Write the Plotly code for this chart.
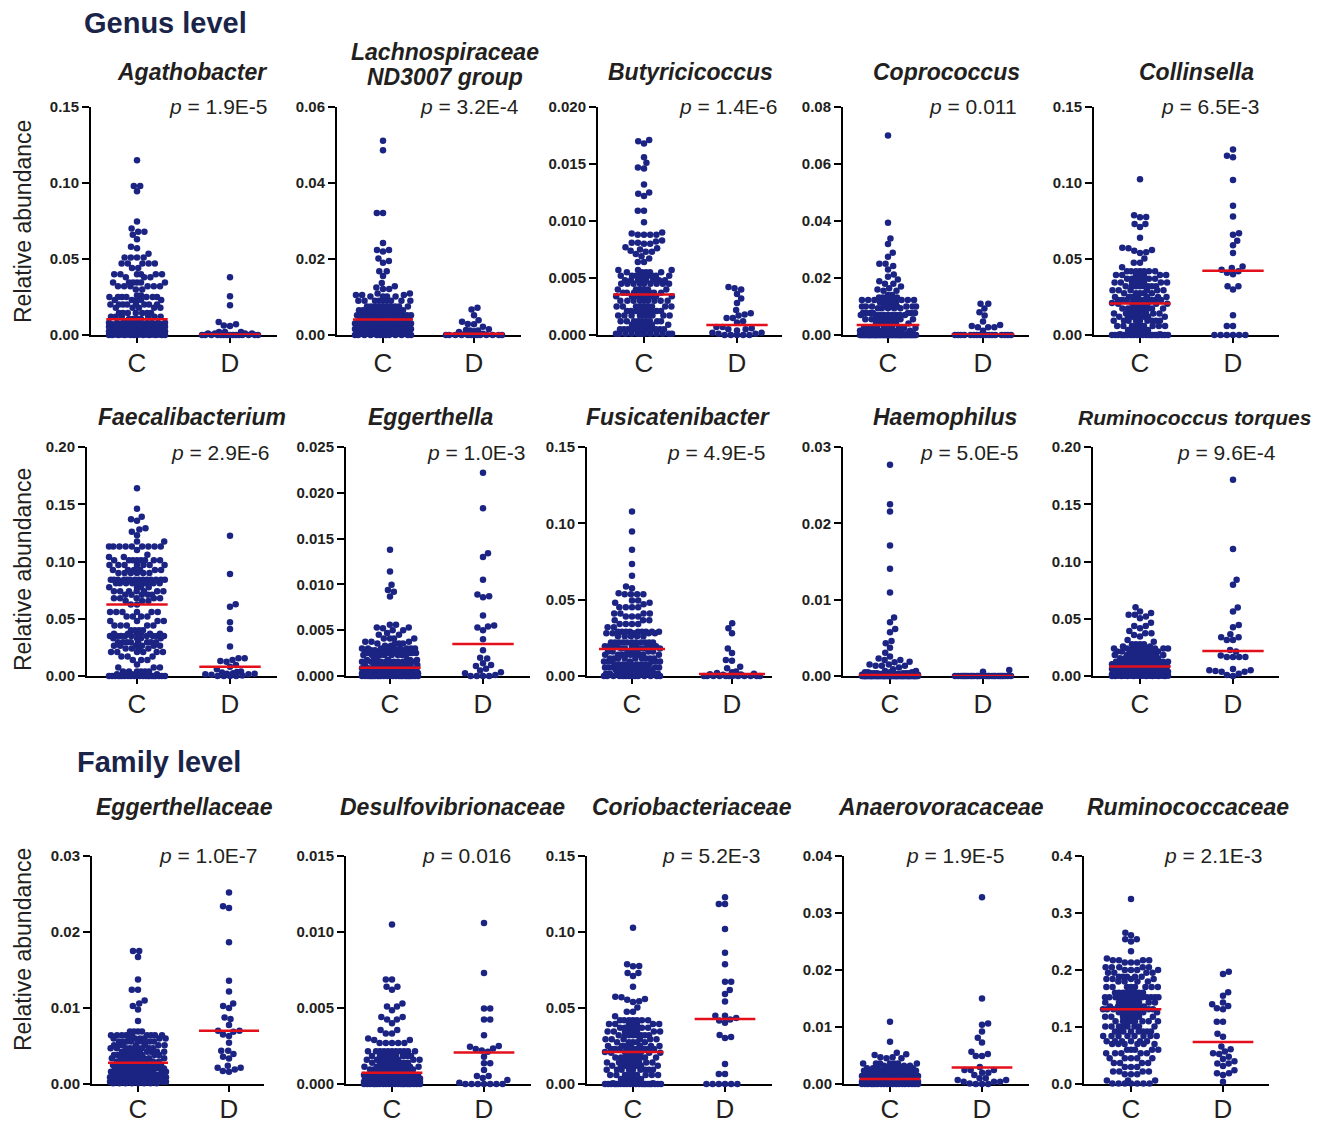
import math
import plotly.graph_objects as go

# ---------------- data ----------------
NAMES = ["Agathobacter", "Lachnospiraceae ND3007 group", "Butyricicoccus", "Coprococcus", "Collinsella",
         "Faecalibacterium", "Eggerthella", "Fusicatenibacter", "Haemophilus", "Ruminococcus torques",
         "Eggerthellaceae", "Desulfovibrionaceae", "Coriobacteriaceae", "Anaerovoracaceae", "Ruminococcaceae"]
P_TEXT = ["1.9E-5", "3.2E-4", "1.4E-6", "0.011", "6.5E-3",
          "2.9E-6", "1.0E-3", "4.9E-5", "5.0E-5", "9.6E-4",
          "1.0E-7", "0.016", "5.2E-3", "1.9E-5", "2.1E-3"]
Y_MAX = [0.15, 0.06, 0.020, 0.08, 0.15, 0.20, 0.025, 0.15, 0.03, 0.20, 0.03, 0.015, 0.15, 0.04, 0.4]
Y_STEP = [0.05, 0.02, 0.005, 0.02, 0.05, 0.05, 0.005, 0.05, 0.01, 0.05, 0.01, 0.005, 0.05, 0.01, 0.1]
Y_FMT = [".2f", ".2f", ".3f", ".2f", ".2f", ".2f", ".3f", ".2f", ".2f", ".2f", ".2f", ".3f", ".2f", ".2f", ".1f"]
UNITS = [1e-3, 1e-3, 1e-4, 1e-3, 1e-3, 1e-3, 1e-4, 1e-3, 1e-4, 1e-3, 1e-4, 1e-4, 1e-3, 1e-4, 1e-3]
MEDIAN_C = [0.0104, 0.0041, 0.00355, 0.0035, 0.0208, 0.0625, 0.00091, 0.0177, 0.00012, 0.0082,
            0.0028, 0.00074, 0.021, 0.00088, 0.131]
MEDIAN_D = [0.0004, 0.0003, 0.00088, 0.0002, 0.0423, 0.0080, 0.0035, 0.0013, 0.0, 0.0219,
            0.0070, 0.00208, 0.0428, 0.0029, 0.0737]
CATEGORIES = ["C", "D"]

AGA_C = [115, 98, 98, 94.5, 74.7, 70, 68, 68, 66, 63, 58, 57, 53.5, *[51]*4, *[47]*5, *[44]*2, *[40]*6, *[38]*3,
         *[34.5]*6, *[32]*6, *[30]*2, *[26]*2, *[25]*7, *[23]*5, *[20]*8, *[18]*5, *[14.5]*7, *[12]*6, *[10.5]*4,
         *[8]*10, *[7]*8, *[5.5]*9, *[4]*12, *[2.5]*12, *[1.2]*12, *[0.4]*12, *[0]*12]
AGA_D = [38, 25.5, 19.5, 8.5, 7, 6.2, 6, *[2]*3, *[1]*4, *[0]*15]

LAC_C = [51.1, 48.6, 32.1, 32.1, 24.2, 22.4, 22.4, 22.0, 20.1, 19.5, 19.0, 16.8, 16.8, 15.5, 13.7, 12.8, 12.5, 12.1,
         12.1, *[10.9]*2, *[10.5]*3, *[10.1]*4, *[9]*9, *[7.5]*10, *[6.5]*12, *[5.2]*14, *[4.5]*8, *[4.1]*4,
         *[3.5]*10, *[3]*12, *[2.3]*12, *[1.6]*12, *[1]*12, *[0.4]*10, *[0]*13]
LAC_D = [7.2, 6.7, 5.2, 3.9, 3.5, 2.9, 2.8, 2.2, 1.5, 1.3, 1.2, 1.2, 1.0, 0.8, 0.3, 0.3, *[0]*13]

BUT_C = [171, 170, 168, 156, 151, 147, 146, 132, 125, 124, 122, 109, 109, 99, 90, 89, 88, 88, 88, 88, 83, 82, 81,
         81, 80, 80, 77, 76, 75, 74, 73, 73, 71, 69, 67, 64, 64, *[57]*3, *[55]*5, *[52]*9, *[48]*8, *[45]*9,
         *[40]*6, *[37]*9, *[34]*9, *[30]*9, *[25]*9, *[21]*9, *[17]*9, *[12]*9, *[9]*7, *[5]*12, *[1]*12]
BUT_D = [42, 41, 40, 36, 32, 28, 22, 19, 18, 17, 15, 15, 12, 11, 7, 7, 6, 5, 5, 4, 2, 2, 1, 1, 0, 0, 0, 0, 0]

COP_C = [70, 39.4, 33.9, 31.9, 28.9, 27.5, 25, 25, 24.2, 23, 21.2, 20.4, 19.5, 18.9, 18, 18, 17, 16.4, 16, 15.5,
         15.5, 14, 14, 13.2, 13.2, 13.2, *[12.3]*9, *[11.4]*5, *[10]*9, *[9.4]*5, *[7.7]*7, *[7]*9, *[5.5]*10,
         *[4]*7, *[2.5]*10, *[1.5]*8, *[0.5]*8, *[0]*60]
COP_D = [11, 11, 9.3, 8, 6.8, 4.7, 3.5, 3.2, 2.7, 2.7, 2.7, 1.5, *[0]*17]

COL_C = [102.5, 78.8, 77.7, 77.5, 73, 73, 71, 64, 57.4, 57, 56, 55.5, 54.5, 54, 50.4, 47.5, 47.5, 44.5, *[42]*7,
         *[39.5]*7, *[37]*7, *[34.5]*8, *[32]*8, *[29.5]*6, *[27.5]*5, *[25]*7, *[23]*9, *[21]*3, *[20.5]*6,
         *[17.5]*9, *[14.2]*9, *[12]*8, *[9.4]*9, *[6]*9, *[3.3]*6, *[0.5]*4, *[0]*22]
COL_D = [122, 118, 117, 102, 85, 78, 67, 66, 62, 59, 54, 45, 44, 43, 42, 41, 40, 32, 32, 30, 13, 6, 6, *[0]*6]

FAE_C = [164, 146, 139, 137, 135.5, 129, 128, 126, 123, 117.5, 117.5, *[113]*9, 110, 106, 104, 104, *[101]*8,
         *[97]*7, *[92.5]*6, *[90]*6, *[84]*14, *[81]*10, *[77.5]*4, *[74]*7, *[71]*5, *[68]*5, *[65.5]*3,
         *[62.5]*2, *[56]*6, *[52]*4, *[48]*4, *[44]*5, *[40]*4, *[37]*6, *[35]*9, *[33]*4, *[29.5]*8,
         *[26.5]*6, *[24]*4, *[21]*6, *[17]*3, *[14]*3, 10, *[7.5]*3, *[4]*6, *[1.5]*4, *[0]*22]
FAE_D = [122.5, 89, 62.7, 60.5, 47, 41, 25.7, 15.5, 15.5, 14, 13, 12.5, 9.5, 8, 6, 4, 3.5, 3, 2.5, 2, 2, 1.5, 1.5,
         1, 0.5, 0, 0, 0, 0]

EGG_C = [137.8, 114, 99.5, 94, 92, 86.7, 56, 56, 53, 53, 52, 50, 50, 47, 45, 45, *[41]*4, *[37.5]*3, *[35.5]*4,
         *[33]*2, *[30]*9, *[28]*7, *[25]*9, *[23]*9, *[17.5]*7, *[15.5]*9, *[12]*11, *[8.5]*12, *[5]*18,
         *[3]*18, *[1.5]*18, *[0]*25]
EGG_D = [222, 183, 134, 130, 105, 89, 87, 86, 66, 55, 54, 53, 50, 40, 28, 20, 19, 14, 12, 11, 8, 6, 4, 3, 1,
         0, 0, 0, 0]

FUS_C = [107.8, 94.7, 82.7, 73.3, 65.6, 58.6, 57.5, 54.2, *[53.5]*4, *[49.5]*2, *[48]*2, 47, *[45]*4, *[41]*4,
         *[39]*3, *[36.5]*3, *[34]*4, *[32]*2, *[29]*9, *[28]*5, *[26]*5, *[22]*11, *[19.5]*9, *[18]*5,
         *[16]*7, *[14]*9, *[11.5]*9, *[9.5]*7, *[7.5]*9, *[5.5]*7, *[4]*10, *[1.5]*10, *[0]*14]
FUS_D = [34.5, 31.3, 28, 18, 15, 10.5, 10, 6, 5, 3, 2.5, 2, 1.5, 1.2, 1, 0.8, 0.5, *[0]*12]

HAE_C = [276.8, 225, 215.6, 171, 140.4, 109.3, 76.5, 70.4, 61.7, 57.3, 45.9, 42.9, 37, 30.6, 25.4, 23, 21, 21,
         18.8, 18, 15, 15, 13.5, 13.5, 13.5, 11, 9, 6.5, 6.5, *[5]*4, *[3.5]*6, *[2.5]*8, *[1.5]*12, *[0.8]*20,
         *[0.3]*30, *[0]*70]
HAE_D = [7.9, 5.7, *[0]*27]

RTQ_C = [60, 56.3, 55, 53.4, 53.4, 52, 50.4, 46.6, 43.7, 43.7, 41.7, 39.4, 37.3, 37.3, 35.9, 34.4, 31.5, 30,
         *[27.7]*4, *[25.7]*2, *[24]*9, *[21.3]*9, *[18.4]*9, *[15.5]*9, *[12.5]*11, *[10.2]*11, *[8.2]*8,
         *[6.1]*16, *[3.8]*18, *[1.5]*18, *[0.3]*12, *[0]*10]
RTQ_D = [171.4, 111, 84, 79.6, 59.8, 56.3, 44.6, 42.6, 36.4, 33.8, 33.8, 31.5, 31.5, 22.7, 21.3, 17.8, 16.6,
         16.6, 16.6, 16.6, 6.1, 5, 5, 4.4, 3.8, 3.8, 2.0, 0.9, 0]

EGF_C = [175, 175, 167, 137.5, 124, 124, 110, 106, 102.5, 98, 83, *[69]*4, *[64]*9, *[60]*7, *[56]*9, *[51]*7,
         *[47]*9, *[42.5]*9, *[38]*9, *[34]*9, *[29.5]*9, *[25]*10, *[20.5]*10, *[16]*10, *[12]*10, *[9]*10,
         *[6]*10, *[3]*10, *[1]*8]
EGF_D = [252, 234, 231.7, 186.6, 135.8, 121.8, 106, 102.5, 100, 87.6, 85.4, 77.5, 70, 70, 68.8, 65, 63, 54.3,
         43.8, 43.8, 39.4, 36, 33.7, 24, 21.5, 21.5, 19, 17, 16]

DES_C = [105, 68.8, 68.8, 64, 64, 62, 53, 51, 51, 48.6, 44, 44, 42.5, 42.5, 40, 35.5, 35.5, 33.3, 33.3, 30, 29,
         29, *[27]*5, *[21.5]*11, *[18.4]*9, *[16]*9, *[14]*9, *[11.4]*11, *[9.6]*11, *[7.4]*2, *[6]*20,
         *[3.7]*22, *[1.5]*22, *[0]*22]
DES_D = [106, 73, 49.7, 49.7, 42.5, 42.5, 32, 25, 24.5, 23.4, 23, 22, 21.2, 18, 13.6, 13.6, 9.2, 5.3, 5.3, 4,
         2.6, 0.9, *[0]*7]

COR_C = [102.8, 78.8, 77.7, 77.5, 73, 73, 71, 64, 57.4, 57, 56, 55.5, 54.5, 54, 50.4, 47.5, 47.5, 44.5, *[42]*7,
         *[39.5]*7, *[37]*7, *[34.5]*8, *[32]*8, *[29.5]*6, *[27.5]*5, *[25]*7, *[23]*9, *[21]*3, *[20.5]*6,
         *[17.5]*9, *[14.2]*9, *[12]*8, *[9.4]*9, *[6]*9, *[3.3]*6, *[0.5]*4, *[0]*22]
COR_D = [122.8, 118.4, 118.4, 102, 86.4, 78.8, 67.3, 67.3, 61.8, 59.2, 54.2, 44.9, 44.9, 43.5, 42.5, 41.7,
         40.3, 32.2, 31, 30.2, 13.1, 6.6, 6.6, *[0]*6]

ANA_C = [109, 74, 55, 52, 51, 47, 47, 45, 45, *[36]*7, *[32]*3, *[27.5]*9, *[23.4]*11, *[18.7]*11, *[14]*13,
         *[10]*10, *[8.8]*4, *[7]*20, *[4]*25, *[1.5]*20, *[0]*20]
ANA_D = [327.5, 150, 106, 104, 92, 81, 73, 56.7, 52.6, 49, 49, 30, 24.6, 24.6, 24.6, 19.9, 19.9, 15.8, 10, 10,
         7, 7, 4, 4, 4, 1, 0, 0, 0]

RUF_C = [324.6, 265.5, 261, 254, 254, 250, 233, 220, *[217]*4, *[213]*3, *[205]*5, *[200]*4, *[195]*4,
         *[188]*5, *[184]*4, *[180]*4, *[170]*8, *[160]*8, *[152]*14, *[143]*9, *[136]*8, *[131]*6, *[126]*8,
         *[118]*8, *[110]*8, *[101]*8, *[92]*8, *[84]*8, *[75]*6, *[70]*6, *[60]*5, *[54]*5, *[45]*5, *[37]*4,
         *[30]*3, *[22]*4, *[17]*3, *[6]*3, *[1]*7]
RUF_D = [197, 193, 161, 155, 143, 140, 137, 133, 131, 109, 109, 88, 83, 66, 61, 57, 54, 52.6, 48, 44, 40, 36,
         36, 31.6, 24, 18.7, 18.7, 16, 4]

GROUP_C = [AGA_C, LAC_C, BUT_C, COP_C, COL_C, FAE_C, EGG_C, FUS_C, HAE_C, RTQ_C, EGF_C, DES_C, COR_C, ANA_C, RUF_C]
GROUP_D = [AGA_D, LAC_D, BUT_D, COP_D, COL_D, FAE_D, EGG_D, FUS_D, HAE_D, RTQ_D, EGF_D, DES_D, COR_D, ANA_D, RUF_D]

# ---------------- layout (pixel positions in the page) ----------------
W, H = 1320, 1125
OFF = 8  # page body margin
PANEL_X = [(91, 137, 230, 277), (337, 383, 474, 521), (598, 644, 737, 782), (843, 888, 983, 1029),
           (1094, 1140, 1233, 1279),
           (87, 137, 230, 277), (346, 390, 483, 530), (587, 632, 732, 772), (843, 890, 983, 1029),
           (1093, 1140, 1233, 1279),
           (92, 138, 229, 264), (346, 392, 484, 531), (587, 633, 725, 772), (844, 890, 982, 1029),
           (1084, 1131, 1223, 1269)]
ROW_Y = [(107, 335), (447, 676), (856, 1084)]
ROW_STANDOFF = [-2, -2, -5]
TITLE_X = [192, 445, 690, 946, 1196, 192, 430, 678, 945, 1194, 184, 453, 692, 941, 1188]
TITLE_SIZE = [23, 23, 23, 23, 23, 23, 23, 23, 23, 21, 23, 23, 23, 23, 23]
TITLE_Y = [72, 417, 807]
P_RIGHT = [270, 521, 780, 1019, 1262, 272, 528, 768, 1021, 1278, 260, 513, 763, 1007, 1265]
P_Y = [106, 452, 855]
YTITLE_Y = [222, 570, 950]

NAVY = "#1c2483"
RED = "#e3101c"
INK = "#231f20"
SANS = "Liberation Sans, Arial, sans-serif"

DOT = 6.5
DIAM = 6.2
HALF_PX = 28
MIN_SEP = 3.8


def px_x(x):
    return (x - OFF) / W


def px_y(y):
    return 1 - (y - OFF) / H


def swarm(vals, ppu_y, ppx):
    """Beeswarm offsets (layout only): closest-to-centre free slot, overlap when too wide."""
    pts = sorted(vals)
    placed = []
    xs, ys = [], []
    grid = [HALF_PX * (2 * k / 56 - 1) for k in range(57)]
    for idx, v in enumerate(pts):
        y = v * ppu_y
        neigh = [(px, py) for (px, py) in placed if y - py < DIAM]
        iv = []
        for px, py in neigh:
            dy = y - py
            w = math.sqrt(max(DIAM ** 2 - dy ** 2, 0.0))
            iv.append((px - w, px + w))
        pref = 1 if idx % 2 == 0 else -1
        cands = [0.0] + [a for a, b in iv] + [b for a, b in iv]
        cands.sort(key=lambda c: (round(abs(c), 6), 0 if c * pref >= 0 else 1))
        best = None
        for c in cands:
            if all(not (a + 1e-9 < c < b - 1e-9) for a, b in iv):
                best = c
                break
        if best is None or abs(best) > HALF_PX:
            def score(g):
                d = min(math.sqrt((g - px) ** 2 + (y - py) ** 2) for px, py in neigh)
                return (round(min(d, MIN_SEP), 3), -abs(g))
            best = max(grid, key=score)
        placed.append((best, y))
        xs.append(best / ppx)
        ys.append(v)
    return xs, ys


fig = go.Figure()
layout = {}
for i in range(15):
    row = i // 5
    ax_x, c_x, d_x, end_x = PANEL_X[i]
    top_y, zero_y = ROW_Y[row]
    ppx = d_x - c_x
    ppu_y = (zero_y - top_y) / Y_MAX[i]
    xr = [-(c_x - ax_x) / ppx, 1 + (end_x - d_x) / ppx]
    n = "" if i == 0 else str(i + 1)
    xref, yref = "x" + n, "y" + n

    nt = int(round(Y_MAX[i] / Y_STEP[i]))
    tv = [k * Y_STEP[i] for k in range(nt + 1)]
    layout["xaxis" + n] = dict(domain=[px_x(ax_x), px_x(end_x)], range=xr, anchor=yref,
                               tickvals=[0, 1], ticktext=CATEGORIES, showline=True, linecolor="black",
                               linewidth=2, ticks="outside", ticklen=6, tickwidth=2, tickcolor="black",
                               ticklabelstandoff=ROW_STANDOFF[row],
                               tickfont=dict(family=SANS, size=26, color=INK), showgrid=False,
                               zeroline=False, layer="below traces", fixedrange=True, automargin=False)
    layout["yaxis" + n] = dict(domain=[px_y(zero_y), px_y(top_y)], range=[0, Y_MAX[i]], anchor=xref,
                               tickvals=tv, tickformat=Y_FMT[i], showline=True, linecolor="black",
                               linewidth=2, ticks="outside", ticklen=7, tickwidth=2, tickcolor="black",
                               tickfont=dict(family=SANS, size=15, color=INK, weight="bold"),
                               showgrid=False, zeroline=False, layer="below traces", fixedrange=True,
                               automargin=False)

    for g, vals in enumerate([GROUP_C[i], GROUP_D[i]]):
        real = [v * UNITS[i] for v in vals]
        xs, ys = swarm(real, ppu_y, ppx)
        fig.add_trace(go.Scatter(x=[g + x for x in xs], y=ys, xaxis=xref, yaxis=yref, mode="markers",
                                 marker=dict(size=DOT, color=NAVY, line=dict(width=0)),
                                 cliponaxis=False, showlegend=False, hoverinfo="skip"))
    for g, med in enumerate([MEDIAN_C[i], MEDIAN_D[i]]):
        fig.add_trace(go.Scatter(x=[g - 0.33, g + 0.33], y=[med, med], xaxis=xref, yaxis=yref, mode="lines",
                                 line=dict(color=RED, width=2.5), cliponaxis=False, showlegend=False,
                                 hoverinfo="skip"))

annotations = []


def ann(text, x, y, size, xanchor="center", yanchor="middle", weight="normal",
        style="normal", color=INK, angle=0):
    annotations.append(dict(text=text, x=px_x(x), y=px_y(y), xref="paper", yref="paper", showarrow=False,
                            xanchor=xanchor, yanchor=yanchor, textangle=angle,
                            font=dict(family=SANS, size=size, color=color, weight=weight, style=style)))


for i in range(15):
    row = i // 5
    if i == 1:
        ann("Lachnospiraceae", TITLE_X[i], 52, TITLE_SIZE[i], weight="bold", style="italic")
        ann("ND3007 group", TITLE_X[i], 77, TITLE_SIZE[i], weight="bold", style="italic")
    else:
        ann(NAMES[i], TITLE_X[i], TITLE_Y[row], TITLE_SIZE[i], weight="bold", style="italic")
    ann("<i>p</i> = " + P_TEXT[i], P_RIGHT[i], P_Y[row], 21, xanchor="right")

for r in range(3):
    ann("Relative abundance", 23, YTITLE_Y[r], 23, angle=-90)

ann("Genus level", 82, 23, 29, xanchor="left", weight="bold", color="#1a2448")
ann("Family level", 75, 762, 29, xanchor="left", weight="bold", color="#1a2448")

fig.update_layout(width=W, height=H, margin=dict(l=0, r=0, t=0, b=0, autoexpand=False),
                  plot_bgcolor="white", paper_bgcolor="white", annotations=annotations,
                  showlegend=False, **layout)
fig.write_html("out.html")
